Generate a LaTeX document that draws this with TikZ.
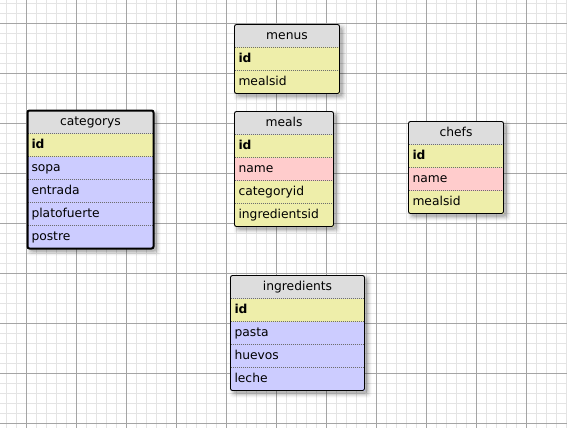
\documentclass[tikz,border=0pt]{standalone}
\usepackage{fontspec}
\setmainfont{DejaVu Sans}
\definecolor{hdr}{RGB}{221,221,221}
\definecolor{ylw}{RGB}{238,238,170}
\definecolor{pnk}{RGB}{255,204,204}
\definecolor{blu}{RGB}{204,204,255}
\definecolor{gminor}{RGB}{228,228,228}
\definecolor{gmajor}{RGB}{165,165,165}
\definecolor{sepc}{RGB}{110,110,110}
\tikzset{
  hdrbox/.style={rectangle, fill=hdr, inner sep=0pt, outer sep=0pt, minimum height=23pt, anchor=north west, text height=9pt, text depth=2.5pt},
  rowbox/.style={rectangle, inner xsep=4pt, inner ysep=0pt, outer sep=0pt, minimum height=23pt, anchor=north west, align=left, text height=9pt, text depth=2.5pt},
  sepline/.style={sepc, line width=0.8pt, dash pattern=on 1pt off 1pt},
}
\newcommand\dbtable[8]{%
  \pgfmathsetmacro\tblh{23*(#5+1)}%
  \pgfmathsetmacro\tblw{#4-8}%
  \foreach \k/\op in {0/0.10,1/0.08,2/0.06,3/0.04,4/0.03}{
    \fill[black,opacity=\op,rounded corners=3pt] (#2+3-\k,#3+3-\k) rectangle ++(#4+2*\k,\tblh+2*\k);
  }
  \node[hdrbox, minimum width=#4pt] (#1) at (#2,#3) {#6};
  \foreach [count=\i] \key/\col/\txt in {#7}{
    \node[rowbox, fill=\col, text width=\tblw pt] (#1-\key) at (#2,#3+23*\i) {\txt};
    \draw[sepline] (#2,#3+23*\i) -- ++(#4,0);
  }
  \draw[line width=#8, rounded corners=2pt] (#2,#3) rectangle ++(#4,\tblh);
}
\begin{document}
\begin{tikzpicture}[x=1pt,y=-1pt,font=\fontsize{12.3}{14}\selectfont]
\useasboundingbox (0,0) rectangle (567,428);
\fill[white] (0,0) rectangle (567,428);
\foreach \x in {6,16,...,566} \draw[gminor,line width=1pt] (\x+0.5,0) -- (\x+0.5,428);
\foreach \y in {3,13,...,423} \draw[gminor,line width=1pt] (0,\y+0.5) -- (567,\y+0.5);
\foreach \x in {26,76,...,526} \draw[gmajor,line width=1pt] (\x+0.5,0) -- (\x+0.5,428);
\foreach \y in {23,73,...,423} \draw[gmajor,line width=1pt] (0,\y+0.5) -- (567,\y+0.5);

\dbtable{menus}{234.5}{24.5}{105}{2}{menus}{id/ylw/\bfseries id, mealsid/ylw/mealsid}{0.9pt}
\dbtable{categorys}{27.5}{110.5}{126}{5}{categorys}{id/ylw/\bfseries id, sopa/blu/sopa, entrada/blu/entrada, platofuerte/blu/platofuerte, postre/blu/postre}{2pt}
\dbtable{meals}{234.5}{111.5}{99}{4}{meals}{id/ylw/\bfseries id, name/pnk/name, categoryid/ylw/categoryid, ingredientsid/ylw/ingredientsid}{0.9pt}
\dbtable{chefs}{408.5}{121.5}{95}{3}{chefs}{id/ylw/\bfseries id, name/pnk/name, mealsid/ylw/mealsid}{0.9pt}
\dbtable{ingredients}{230.5}{275.5}{134}{4}{ingredients}{id/ylw/\bfseries id, pasta/blu/pasta, huevos/blu/huevos, leche/blu/leche}{0.9pt}
\end{tikzpicture}
\end{document}
